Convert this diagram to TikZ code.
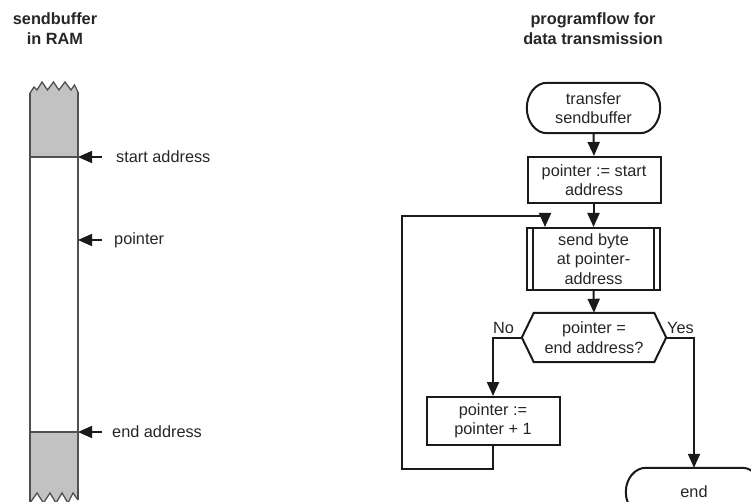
\documentclass[tikz,border=0pt]{standalone}
\usepackage{fontspec}
\setmainfont{Liberation Sans}
\usetikzlibrary{arrows.meta,calc}
\definecolor{ink}{HTML}{1A1A1A}
\definecolor{txt}{HTML}{262626}
\definecolor{memfill}{HTML}{C2C2C2}
\definecolor{memline}{HTML}{505050}

\begin{document}
\begin{tikzpicture}[x=1pt,y=-1pt,
  every node/.style={font=\fontsize{16.3}{19.5}\selectfont, text=txt, inner sep=0pt},
  title/.style={font=\fontsize{16.3}{20}\selectfont\bfseries, align=center},
  label/.style={anchor=west},
  plain/.style={align=center},
  boxnode/.style={draw=ink, line width=2pt, align=center, minimum width=133pt, minimum height=47pt},
  outline/.style={draw=ink, line width=2pt},
  flow/.style={draw=ink, line width=2pt, -{Triangle[width=12pt,length=14pt]}},
  line/.style={draw=ink, line width=2pt},
  pointarrow/.style={draw=ink, line width=1.6pt, -{Triangle[width=12pt,length=14pt]}},
  mem/.style={draw=memline, line width=1.3pt},
]
\useasboundingbox (0,0) rectangle (751,502);
\clip (0,0) rectangle (751,502);

% ---------- headings ----------
\node[title] (ramtitle) at (55,29) {sendbuffer\\in RAM};
\node[title] (flowtitle) at (593,29) {programflow for\\data transmission};

% ---------- memory strip ----------
\fill[memfill] (30,93) -- (34,87) -- (37,90) -- (42,82) -- (47.5,90) -- (53.5,82) -- (59,90)
  -- (65,82) -- (71,90) -- (74.5,85) -- (78,92) -- (78,157) -- (30,157) -- cycle;
\fill[memfill] (30,432) -- (78,432) -- (78,500) -- (73,493) -- (68,503) -- (62,493) -- (56,503)
  -- (50,493) -- (43.5,503) -- (37,493) -- (30,503) -- cycle;
\draw[mem] (30,93) -- (34,87) -- (37,90) -- (42,82) -- (47.5,90) -- (53.5,82) -- (59,90)
  -- (65,82) -- (71,90) -- (74.5,85) -- (78,92);
\draw[mem] (30,503) -- (37,493) -- (43.5,503) -- (50,493) -- (56,503) -- (62,493) -- (68,503)
  -- (73,493) -- (78,500);
\draw[mem] (30,93) -- (30,503);
\draw[mem] (78,92) -- (78,500);
\draw[mem] (30,157) -- (78,157);
\draw[mem] (30,432) -- (78,432);

\coordinate (memstart) at (78,157);
\coordinate (memptr) at (78,240);
\coordinate (memend) at (78,432);

\node[label] (lstart) at (116,157) {start address};
\node[label] (lptr) at (114,240) {pointer};
\node[label] (lend) at (112,432) {end address};

\draw[pointarrow] ([xshift=-14pt]lstart.west) -- (memstart);
\draw[pointarrow] ([xshift=-12pt]lptr.west) -- (memptr);
\draw[pointarrow] ([xshift=-10pt]lend.west) -- (memend);

% ---------- flowchart ----------
% start terminal: flat top and bottom, half-elliptic ends (rx 20, ry 25)
\node[plain, minimum width=93pt, minimum height=50pt] (start) at (593.5,108) {transfer\\sendbuffer};
\draw[outline] (start.north west) -- (start.north east)
  .. controls +(11,0) and +(0,-13.8) .. ($(start.east)+(20,0)$)
  .. controls +(0,13.8) and +(11,0) .. (start.south east)
  -- (start.south west)
  .. controls +(-11,0) and +(0,13.8) .. ($(start.west)+(-20,0)$)
  .. controls +(0,-13.8) and +(-11,0) .. (start.north west) -- cycle;

% initialise pointer
\node[boxnode, minimum height=46pt] (init) at (594,180) {pointer := start\\address};

% predefined process: send byte
\node[boxnode, minimum height=62pt] (send) at (593.5,259) {send byte\\at pointer-\\address};
\draw[line] ([xshift=7pt]send.north west) -- ([xshift=7pt]send.south west);
\draw[line] ([xshift=-7pt]send.north east) -- ([xshift=-7pt]send.south east);

% decision hexagon
\node[plain, minimum width=144pt, minimum height=49pt] (test) at (594,337.5) {pointer =\\end address?};
\draw[outline] (test.west) -- ([xshift=12pt]test.north west) -- ([xshift=-12pt]test.north east)
  -- (test.east) -- ([xshift=-12pt]test.south east) -- ([xshift=12pt]test.south west) -- cycle;

% increment
\node[boxnode, minimum height=48pt] (inc) at (493,421) {pointer :=\\pointer + 1};

% end terminal (runs off the lower right corner)
\node[plain, minimum width=96pt, minimum height=48pt] (stop) at (694,492) {end};
\draw[outline] (stop.north west) -- (stop.north east)
  .. controls +(11,0) and +(0,-13.3) .. ($(stop.east)+(20,0)$)
  .. controls +(0,13.3) and +(11,0) .. (stop.south east)
  -- (stop.south west)
  .. controls +(-11,0) and +(0,13.3) .. ($(stop.west)+(-20,0)$)
  .. controls +(0,-13.3) and +(-11,0) .. (stop.north west) -- cycle;

% branch labels
\node[anchor=base west] (nolbl) at (493,333) {No};
\node[anchor=base west] (yeslbl) at (667,333) {Yes};

% connectors
\draw[flow] (start.south) -- (init.north);
\draw[flow] (init.south -| send.north) -- (send.north);
\draw[flow] (send.south) -- (test.north);
\draw[flow] (test.west) -| (inc.north);
\draw[flow] (test.east) -| (stop.north);

\coordinate (loopA) at (402,469);
\coordinate (loopB) at (402,216);
\coordinate (loopC) at (545,216);
\draw[flow] (inc.south) |- (loopA) -- (loopB) -- (loopC) -- (loopC |- send.north);
\end{tikzpicture}
\end{document}
